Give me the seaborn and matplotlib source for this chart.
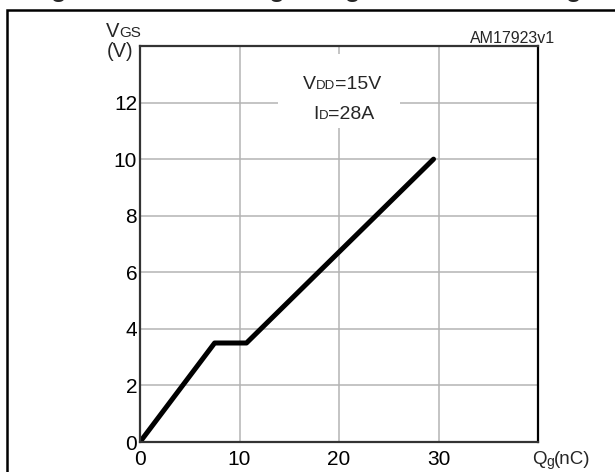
import pandas as pd
import matplotlib.pyplot as plt
import matplotlib.patches as patches
import seaborn as sns

# gate charge curve
qg_nc = [0, 7.5, 10.7, 29.5]
vgs_v = [0, 3.5, 3.5, 10.0]
x_ticks = [0, 10, 20, 30, 40]
x_tick_labels = ["0", "10", "20", "30", ""]
y_ticks = [0, 2, 4, 6, 8, 10, 12, 14]
y_tick_labels = ["0", "2", "4", "6", "8", "10", "12", ""]

df = pd.DataFrame({"Qg": qg_nc, "VGS": vgs_v})

sns.set_style("white")
plt.rcParams['font.family'] = ['Liberation Sans', 'DejaVu Sans']

W, H = 615, 472
fig = plt.figure(figsize=(W / 100, H / 100), dpi=100)
renderer = fig.canvas.get_renderer()

def px(x, y):
    return x / W, 1 - y / H

ax = fig.add_axes([140 / W, (H - 442) / H, 398 / W, 396 / H])
sns.lineplot(data=df, x="Qg", y="VGS", ax=ax, color="black", linewidth=3.6,
             solid_capstyle="round", sort=False)
ax.set_xlim(0, 40)
ax.set_ylim(0, 14)
ax.set_xticks(x_ticks)
ax.set_xticklabels(x_tick_labels)
ax.set_yticks(y_ticks)
ax.set_yticklabels(y_tick_labels)
ax.tick_params(axis="x", length=0, labelsize=15, pad=6, colors="black")
ax.tick_params(axis="y", length=0, labelsize=15, pad=2, colors="black")
ax.set_xlabel("")
ax.set_ylabel("")
ax.grid(True, color="#b4b4b4", linewidth=1.1)
ax.set_axisbelow(True)
for side in ["left", "top", "bottom"]:
    ax.spines[side].set_color("#333333")
    ax.spines[side].set_linewidth(1.6)
ax.spines["right"].set_color("black")
ax.spines["right"].set_linewidth(1.6)

# white patch behind the condition text
ax.add_patch(patches.Rectangle((138 / 398, (442 - 128) / 396), 122 / 398, 74 / 396,
                               transform=ax.transAxes, facecolor="white",
                               edgecolor="none", zorder=1.5))

# text made of pieces with small subscripts, laid out one after another
def put_seq(x, y, pieces, center=False):
    texts = []
    cur = x
    for s, size, dy in pieces:
        t = fig.text(*px(cur, y + dy), s, fontsize=size, va="baseline", ha="left")
        w = t.get_window_extent(renderer).width
        texts.append((t, dy))
        cur += w
    if center:
        shift = (cur - x) / 2
        for t, dy in texts:
            ox, oy = t.get_position()
            t.set_position((ox - shift / W, oy))

put_seq(342, 89, [("V", 14, 0), ("DD", 9.5, 0), ("=15V", 14, 0)], center=True)
put_seq(344, 119, [("I", 14, 0), ("D", 9.5, 0), ("=28A", 14, 0)], center=True)

put_seq(106, 37, [("V", 14.5, 0), ("GS", 11, 0)])
put_seq(107, 57, [("(V)", 14.5, 0)])

put_seq(532, 464, [("Q", 13.5, 0), ("g", 10, 2), ("(nC)", 13.5, 0)])

put_seq(470, 43, [("AM17923v1", 11.5, 0)])

# outer frame and clipped title
fig.add_artist(patches.Rectangle(px(7, 490), 700 / W, 480 / H, transform=fig.transFigure,
                                 facecolor="none", edgecolor="black", linewidth=1.8))
fig.text(27 / W, 1 + 4.5 / H, "Figure 8. Gate charge vs gate-source voltage",
         fontsize=19.3, fontweight="bold", va="baseline", ha="left")

fig.savefig("out.png", dpi=100)
